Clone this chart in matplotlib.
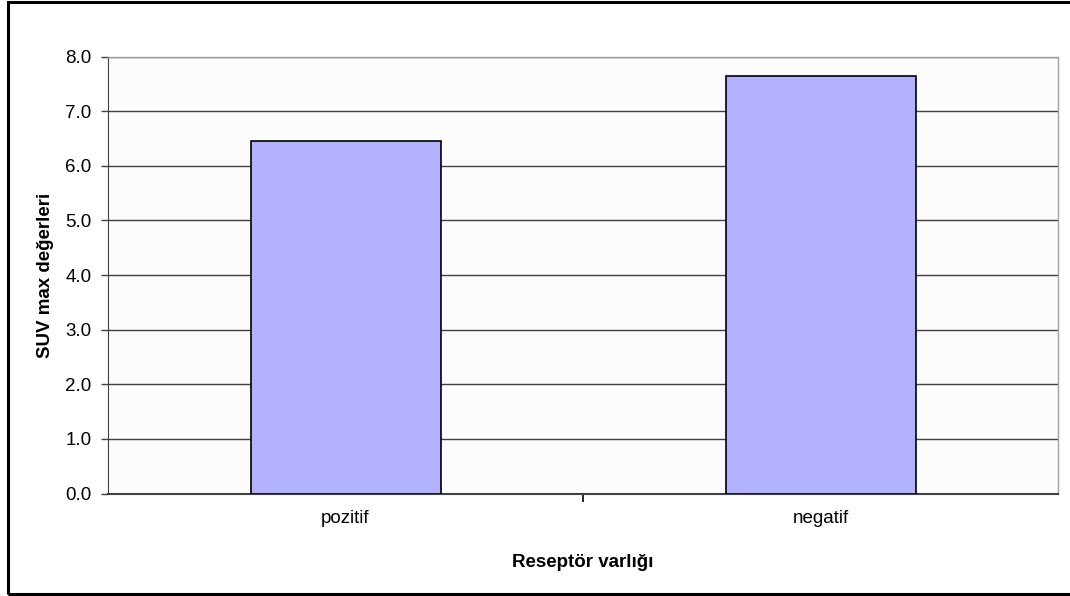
import matplotlib
matplotlib.use("Agg")
import matplotlib.pyplot as plt
from matplotlib.patches import Rectangle

categories = ['pozitif', 'negatif']
suv_max = [6.46, 7.65]
y_ticks = [0, 1, 2, 3, 4, 5, 6, 7, 8]

plt.rcParams['font.family'] = ['Liberation Sans', 'DejaVu Sans']

fig = plt.figure(figsize=(10.7, 5.96), dpi=100)
ax = fig.add_axes([108 / 1070, 1 - 493.5 / 596, 950 / 1070, 437 / 596])

ax.set_facecolor('#fcfcfc')
x = range(len(categories))
ax.bar(x, suv_max, width=0.4, color='#b2b2ff', edgecolor='black', linewidth=1.2, zorder=3)

ax.set_xlim(-0.5, 1.5)
ax.set_ylim(0, 8)
ax.set_yticks(y_ticks)
ax.set_yticklabels(['%.1f' % v for v in y_ticks], fontsize=13.5)
ax.yaxis.grid(True, color='#404040', linewidth=1, zorder=1)

# category labels in the middle, tick marks on the boundaries
ax.set_xticks([0.5], minor=False)
ax.set_xticklabels([''])
ax.set_xticks(list(x), minor=True)
ax.set_xticklabels(categories, minor=True, fontsize=13.5)
ax.tick_params(axis='x', which='major', direction='out', length=6, width=1.2, color='black')
ax.tick_params(axis='x', which='minor', length=0, pad=12)
ax.tick_params(axis='y', direction='out', length=5, width=1, color='#404040', pad=7)

for side in ['top', 'right']:
    ax.spines[side].set_color('#a0a0a0')
    ax.spines[side].set_linewidth(1)
ax.spines['left'].set_color('#404040')
ax.spines['bottom'].set_color('#404040')
ax.spines['bottom'].set_linewidth(1.5)

ax.set_xlabel('Reseptör varlığı', fontsize=13.5, fontweight='bold', labelpad=19)
ax.set_ylabel('SUV max değerleri', fontsize=13.5, fontweight='bold', labelpad=8)

# outer frame of the chart
fig.patches.append(Rectangle((7.5 / 1070, 1 - 593.5 / 596), 1.1, 592 / 596,
                             transform=fig.transFigure, fill=False,
                             edgecolor='black', linewidth=2.2))

fig.savefig('out.png', dpi=100)
